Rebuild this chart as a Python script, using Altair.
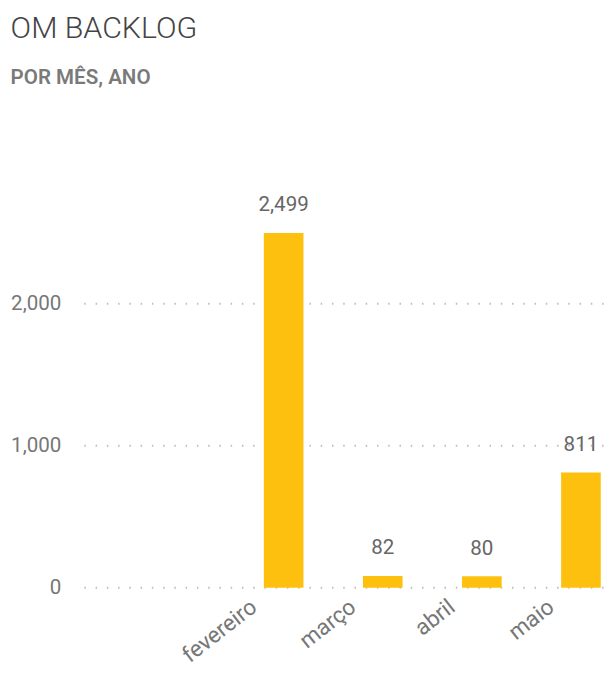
import altair as alt
import pandas as pd

months = ["fevereiro", "março", "abril", "maio"]
values = [2499, 82, 80, 811]
y_ticks = [0, 1000, 2000]

df = pd.DataFrame({"mes": months, "valor": values})
grid_df = pd.DataFrame({"valor": y_ticks})

FONT = "Roboto"
LABEL_COLOR = "#777777"
PLOT_W = 533

y_enc = alt.Y(
    "valor:Q",
    scale=alt.Scale(domain=[0, 2800], nice=False),
    axis=alt.Axis(
        title=None,
        values=y_ticks,
        labelExpr="format(datum.value, ',')",
        labelFontSize=21,
        labelColor=LABEL_COLOR,
        labelFont=FONT,
        labelPadding=24,
        domain=False,
        ticks=False,
        grid=False,
    ),
)

grid = alt.Chart(grid_df).mark_rule(
    strokeDash=[1.5, 10], color="#bdbdbd", strokeWidth=2
).encode(y=y_enc, x=alt.value(0), x2=alt.value(PLOT_W))

base = alt.Chart(df).encode(
    x=alt.X(
        "mes:N",
        sort=months,
        scale=alt.Scale(domain=months, range=[153.0, 558.0], paddingInner=0.6, paddingOuter=0.3),
        axis=alt.Axis(
            title=None,
            labelAngle=-38,
            labelAlign="right",
            labelBaseline="top",
            labelPadding=8,
            labelOffset=-37,
            labelFontSize=23,
            labelColor=LABEL_COLOR,
            labelFont=FONT,
            domain=False,
            ticks=False,
            grid=False,
        ),
    ),
    y=y_enc,
)

bars = base.mark_bar(color="#FEC00F")
labels = base.mark_text(
    dy=-22, baseline="alphabetic", fontSize=21, color="#666666", font=FONT
).encode(text=alt.Text("valor:Q", format=","))

chart = (
    (grid + bars + labels)
    .properties(
        width=PLOT_W,
        height=406,
        padding={"left": 2, "top": -2, "right": 0, "bottom": 0},
        title=alt.Title(
            "OM BACKLOG",
            subtitle="POR MÊS, ANO",
            anchor="start",
            frame="bounds",
            font=FONT,
            fontSize=31,
            fontWeight=300,
            color="#444444",
            subtitleFont=FONT,
            subtitleFontSize=21,
            subtitleFontWeight=600,
            subtitleColor="#7a7a7a",
            subtitlePadding=23,
            offset=104,
        ),
    )
    .configure_view(stroke=None)
)

chart.save("out.html", embed_options={"renderer": "svg", "actions": False})
